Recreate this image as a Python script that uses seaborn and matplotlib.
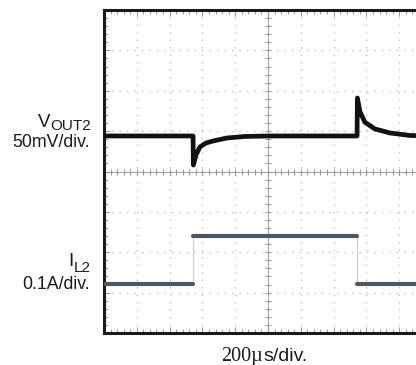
import numpy as np
import pandas as pd
import matplotlib
matplotlib.use("Agg")
import matplotlib.pyplot as plt
import seaborn as sns

# scope settings
TIME_PER_DIV = 200      # us
VOUT_PER_DIV = 50       # mV
IL_PER_DIV = 0.1        # A
N_XDIV, N_YDIV = 10, 8

# VOUT2 deviation (mV)
vout_t = [0, 543, 545, 561, 585, 622, 665, 750, 860, 1012,
          1543, 1545, 1561, 1591, 1652, 1744, 1866, 2000]
vout_mv = [0, 0, -36, -23.5, -13.6, -8.7, -6.2, -2.5, -0.6, 0,
           0, 47, 30, 17, 8.7, 3.7, 0.6, 0]

# inductor current IL2 (A)
il_t = [0, 543, 543, 1543, 1543, 2000]
il_a = [0.121, 0.121, 0.240, 0.240, 0.121, 0.121]

VOUT_POS = 4.88  # baseline position of VOUT2 in divisions

sns.set_style("white")
plt.rcParams['font.family'] = ['Liberation Sans', 'DejaVu Sans']

W, H = 416, 365
fig = plt.figure(figsize=(W / 100, H / 100), dpi=100)
ax = fig.add_axes([104 / W, 32 / H, 328 / W, 323 / H])

xmax = N_XDIV * TIME_PER_DIV
ax.set_xlim(0, xmax)
ax.set_ylim(0, N_YDIV)

# dotted graticule
for i in range(1, N_XDIV):
    ax.axvline(i * TIME_PER_DIV, color='#b5b5b5', lw=0.9, ls=(0, (1, 5)), zorder=0)
for j in range(1, N_YDIV):
    ax.axhline(j, color='#b5b5b5', lw=0.9, ls=(0, (1, 5)), zorder=0)

# center cross with sub-division ticks
xc, yc = xmax / 2, N_YDIV / 2
ax.axvline(xc, color='#a0a0a0', lw=0.7, zorder=0)
ax.axhline(yc, color='#a0a0a0', lw=0.7, zorder=0)
sub_x = np.arange(0, xmax + 1, TIME_PER_DIV / 5)
sub_y = np.arange(0, N_YDIV + 0.01, 0.2)
ax.plot(sub_x, np.full_like(sub_x, yc), ls='none', marker='|', ms=5,
        mew=0.8, color='#999999', zorder=0)
ax.plot(np.full_like(sub_y, xc), sub_y, ls='none', marker='_', ms=5,
        mew=0.8, color='#999999', zorder=0)

# frame ticks
ax.set_xticks(np.arange(0, xmax + 1, TIME_PER_DIV))
ax.set_yticks(np.arange(0, N_YDIV + 1))
ax.set_xticks(sub_x, minor=True)
ax.set_yticks(sub_y, minor=True)
ax.tick_params(which='both', direction='in', top=True, bottom=True,
               left=True, right=False, labelbottom=False, labelleft=False,
               color='#888888', width=0.6)
ax.tick_params(which='major', length=4)
ax.tick_params(which='minor', length=3)
for s in ax.spines.values():
    s.set_linewidth(2.2)
    s.set_color('#1a1a1a')

# VOUT2 trace
vout = pd.DataFrame({'t': vout_t, 'v': np.array(vout_mv) / VOUT_PER_DIV + VOUT_POS})
sns.lineplot(data=vout, x='t', y='v', ax=ax, estimator=None, sort=False,
             color='#111111', lw=3.4, zorder=3)

# IL2 trace: thin edges, thick levels
il = pd.DataFrame({'t': il_t, 'i': np.array(il_a) / IL_PER_DIV})
sns.lineplot(data=il, x='t', y='i', ax=ax, estimator=None, sort=False,
             color='#c8c8c8', lw=0.8, zorder=2)
for k in range(0, len(il), 2):
    sns.lineplot(data=il.iloc[k:k + 2], x='t', y='i', ax=ax, estimator=None,
                 sort=False, color='#4f575c', lw=3.0, zorder=3)
ax.set_xlabel('')
ax.set_ylabel('')

# channel labels
def fx(px):
    return px / W

def fy(py):
    return 1 - py / H

fig.text(fx(50), fy(127), 'V', ha='right', va='baseline', fontsize=13.5, color='#1a1a1a')
fig.text(fx(50), fy(130), 'OUT2', ha='left', va='baseline', fontsize=11, color='#1a1a1a')
fig.text(fx(90), fy(147), '50mV/div.', ha='right', va='baseline', fontsize=12.8, color='#1a1a1a')

fig.text(fx(74), fy(266), 'I', ha='right', va='baseline', fontsize=13.5, color='#1a1a1a')
fig.text(fx(74), fy(272), 'L2', ha='left', va='baseline', fontsize=11, color='#1a1a1a')
fig.text(fx(90), fy(289), '0.1A/div.', ha='right', va='baseline', fontsize=12.8, color='#1a1a1a')

fig.text(fx(263), fy(361), '200\u00b5', ha='right', va='baseline', fontsize=14.5,
         family=['Liberation Serif', 'DejaVu Serif'], color='#1a1a1a')
fig.text(fx(263), fy(361), 's/div.', ha='left', va='baseline', fontsize=14,
         color='#1a1a1a')

fig.savefig('out.png', dpi=100)
